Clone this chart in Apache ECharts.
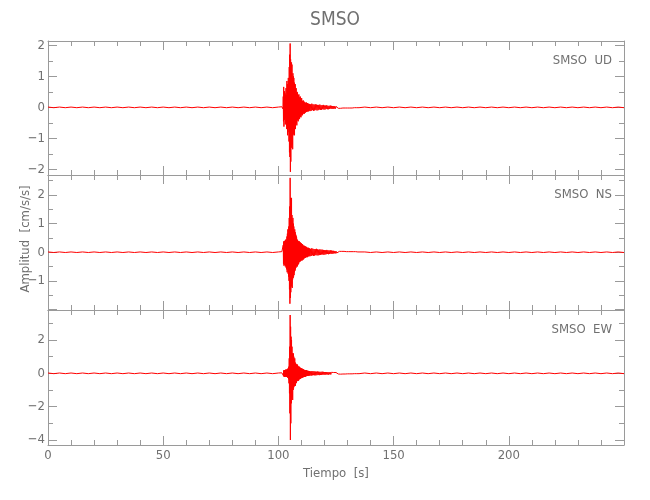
<!DOCTYPE html>
<html>
<head>
<meta charset="utf-8">
<script src="https://cdn.jsdelivr.net/npm/echarts@6/dist/echarts.min.js"></script>
<style>html,body{margin:0;padding:0;background:#fff;}#c{width:650px;height:500px;}</style>
</head>
<body>
<div id="c"></div>
<script>
// ---- Data ----
var title = 'SMSO';
var stations = ['SMSO  UD', 'SMSO  NS', 'SMSO  EW'];
var xTickLabels = [0, 50, 100, 150, 200];

// Sample segments: [start time, step] for each block of values
var preStart = 0, preStep = 2.5;        // 0 .. 100 s
var denseStart = 101.5, denseStep = 0.1; // 101.5 .. 113.4 s
var midStart = 113.5, midStep = 0.25;    // 113.5 .. 125.25 s
var tailStart = 125.5, tailStep = 0.5;   // 125.5 .. 135 s
var postStart = 137.5, postStep = 2.5;   // 137.5 .. 250 s

// UD component (cm/s/s)
var udPre = [0.01,-0.01,0.01,-0.01,0.01,-0.01,0.01,-0.01,0.01,-0.01,
             0.01,-0.01,0.01,-0.01,0.01,-0.01,0.01,-0.01,0.01,-0.01,
             0.01,-0.01,0.01,-0.01,0.01,-0.01,0.01,-0.01,0.01,-0.01,
             0.01,-0.01,0.01,-0.01,0.01,-0.01,0.01,-0.01,0.01,-0.01,0.01];
var udDense = [0.02,-0.03,0.03,-0.02,0.04,-0.05,
               0.35,-0.45,0.66,-0.62,0.30,
               -0.40,0.52,-0.35,0.45,-0.55,0.38,-0.30,0.62,-0.48,0.40,
               -0.70,0.85,-0.60,0.75,-0.90,0.55,-0.80,0.95,-0.65,0.70,
               -1.10,1.30,-1.45,1.70,-1.60,2.06,-2.08,1.55,-1.75,1.20,
               -1.30,1.45,-1.05,1.38,-1.20,0.95,-1.35,1.10,-0.90,1.00,
               -0.85,0.95,-0.75,0.80,-0.90,0.70,-0.65,0.75,-0.70,0.60,
               -0.55,0.62,-0.50,0.45,-0.58,0.50,-0.42,0.48,-0.40,0.38,
               -0.45,0.40,-0.35,0.42,-0.38,0.30,-0.36,0.33,-0.28,0.35,
               -0.30,0.26,-0.32,0.25,-0.22,0.30,-0.26,0.22,-0.25,0.20,
               -0.22,0.18,-0.20,0.22,-0.17,0.19,-0.21,0.16,-0.18,0.15,
               -0.17,0.14,-0.16,0.15,-0.13,0.16,-0.14,0.12,-0.15,0.13,
               -0.12,0.14,-0.11,0.12,-0.13,0.10,-0.12,0.11,-0.10];
var udMid = [0.11,-0.12,0.10,-0.11,0.12,-0.09,0.10,-0.11,0.09,-0.10,
             0.10,-0.08,0.09,-0.10,0.08,-0.09,0.08,-0.07,0.09,-0.08,
             0.07,-0.08,0.07,-0.06,0.08,-0.07,0.06,-0.07,0.06,-0.05,
             0.07,-0.06,0.05,-0.06,0.05,-0.05,0.06,-0.04,0.05,-0.05,
             0.04,-0.05,0.04,-0.04,0.04,-0.04,0.03,-0.03];
var udTail = [0.03,-0.03,0.03,-0.03,0.03,-0.02,0.03,-0.02,0.02,-0.02,
              0.02,-0.02,0.02,-0.02,0.02,-0.01,0.02,-0.01,0.01,-0.01];
var udPost = [0.01,-0.01,0.01,-0.01,0.01,-0.01,0.01,-0.01,0.01,-0.01,
              0.01,-0.01,0.01,-0.01,0.01,-0.01,0.01,-0.01,0.01,-0.01,
              0.01,-0.01,0.01,-0.01,0.01,-0.01,0.01,-0.01,0.01,-0.01,
              0.01,-0.01,0.01,-0.01,0.01,-0.01,0.01,-0.01,0.01,-0.01,
              0.01,-0.01,0.01,-0.01,0.01,-0.01];

// NS component
var nsPre = [0.01,-0.01,0.01,-0.01,0.01,-0.01,0.01,-0.01,0.01,-0.01,
             0.01,-0.01,0.01,-0.01,0.01,-0.01,0.01,-0.01,0.01,-0.01,
             0.01,-0.01,0.01,-0.01,0.01,-0.01,0.01,-0.01,0.01,-0.01,
             0.01,-0.01,0.01,-0.01,0.01,-0.01,0.01,-0.01,0.01,-0.01,0.01];
var nsDense = [0.02,-0.02,0.03,-0.03,0.02,-0.04,
               0.25,-0.40,0.38,-0.47,0.30,
               -0.35,0.40,-0.45,0.32,-0.50,0.42,-0.38,0.45,-0.55,0.40,
               -0.60,0.55,-0.70,0.65,-0.55,0.80,-0.75,0.60,-0.85,0.90,
               -1.00,1.20,-1.30,1.60,-1.80,2.60,-1.60,1.90,-1.40,1.50,
               -1.20,1.90,-1.10,1.30,-1.25,1.10,-0.95,1.20,-0.90,1.00,
               -0.85,0.90,-0.80,0.75,-0.70,0.80,-0.65,0.70,-0.60,0.62,
               -0.55,0.58,-0.50,0.52,-0.48,0.45,-0.50,0.42,-0.45,0.40,
               -0.42,0.38,-0.40,0.36,-0.35,0.38,-0.33,0.35,-0.30,0.34,
               -0.32,0.30,-0.28,0.32,-0.27,0.28,-0.30,0.26,-0.25,0.28,
               -0.26,0.24,-0.25,0.22,-0.24,0.23,-0.21,0.22,-0.20,0.21,
               -0.20,0.19,-0.18,0.20,-0.17,0.18,-0.16,0.17,-0.18,0.15,
               -0.16,0.15,-0.14,0.16,-0.13,0.14,-0.15,0.13,-0.12];
var nsMid = [0.13,-0.14,0.12,-0.13,0.14,-0.11,0.12,-0.13,0.11,-0.12,
             0.11,-0.10,0.12,-0.11,0.10,-0.11,0.09,-0.10,0.10,-0.09,
             0.09,-0.08,0.09,-0.08,0.08,-0.09,0.07,-0.08,0.07,-0.07,
             0.08,-0.06,0.07,-0.07,0.06,-0.06,0.07,-0.05,0.06,-0.06,
             0.05,-0.05,0.05,-0.04,0.04,-0.04,0.04,-0.03];
var nsTail = [0.03,-0.03,0.03,-0.03,0.03,-0.02,0.03,-0.02,0.02,-0.02,
              0.02,-0.02,0.02,-0.02,0.02,-0.01,0.02,-0.01,0.01,-0.01];
var nsPost = [0.01,-0.01,0.01,-0.01,0.01,-0.01,0.01,-0.01,0.01,-0.01,
              0.01,-0.01,0.01,-0.01,0.01,-0.01,0.01,-0.01,0.01,-0.01,
              0.01,-0.01,0.01,-0.01,0.01,-0.01,0.01,-0.01,0.01,-0.01,
              0.01,-0.01,0.01,-0.01,0.01,-0.01,0.01,-0.01,0.01,-0.01,
              0.01,-0.01,0.01,-0.01,0.01,-0.01];

// EW component
var ewPre = [0.02,-0.02,0.02,-0.02,0.02,-0.02,0.02,-0.02,0.02,-0.02,
             0.02,-0.02,0.02,-0.02,0.02,-0.02,0.02,-0.02,0.02,-0.02,
             0.02,-0.02,0.02,-0.02,0.02,-0.02,0.02,-0.02,0.02,-0.02,
             0.02,-0.02,0.02,-0.02,0.02,-0.02,0.02,-0.02,0.02,-0.02,0.02];
var ewDense = [0.03,-0.04,0.05,-0.04,0.06,-0.05,
               0.10,-0.15,0.18,-0.20,0.16,
               -0.18,0.20,-0.22,0.17,-0.20,0.22,-0.18,0.21,-0.19,0.20,
               -0.22,0.25,-0.20,0.24,-0.26,0.28,-0.24,0.30,-0.35,0.40,
               -0.60,0.90,-1.20,1.60,-2.40,3.50,-4.00,2.80,-3.00,2.20,
               -1.80,2.00,-1.50,1.60,-1.40,1.20,-1.60,1.10,-1.00,1.20,
               -0.90,1.00,-0.80,0.85,-0.75,0.90,-0.70,0.65,-0.75,0.60,
               -0.60,0.55,-0.58,0.50,-0.48,0.55,-0.45,0.50,-0.42,0.45,
               -0.45,0.40,-0.42,0.38,-0.36,0.40,-0.35,0.38,-0.33,0.32,
               -0.32,0.30,-0.30,0.28,-0.27,0.30,-0.26,0.28,-0.25,0.24,
               -0.25,0.22,-0.23,0.24,-0.21,0.22,-0.22,0.20,-0.21,0.19,
               -0.20,0.18,-0.19,0.17,-0.18,0.19,-0.16,0.17,-0.16,0.15,
               -0.16,0.15,-0.14,0.15,-0.13,0.14,-0.14,0.12,-0.13];
var ewMid = [0.14,-0.13,0.12,-0.14,0.13,-0.12,0.13,-0.11,0.12,-0.12,
             0.11,-0.12,0.10,-0.11,0.11,-0.10,0.10,-0.11,0.09,-0.10,
             0.09,-0.09,0.10,-0.08,0.09,-0.08,0.08,-0.09,0.08,-0.07,
             0.08,-0.07,0.07,-0.08,0.07,-0.06,0.07,-0.07,0.06,-0.06,
             0.06,-0.06,0.05,-0.05,0.05,-0.05,0.05,-0.04];
var ewTail = [0.05,-0.04,0.04,-0.05,0.04,-0.04,0.04,-0.04,0.03,-0.03,
              0.03,-0.03,0.03,-0.03,0.03,-0.02,0.03,-0.02,0.02,-0.02];
var ewPost = [0.02,-0.02,0.02,-0.02,0.02,-0.02,0.02,-0.02,0.02,-0.02,
              0.02,-0.02,0.02,-0.02,0.02,-0.02,0.02,-0.02,0.02,-0.02,
              0.02,-0.02,0.02,-0.02,0.02,-0.02,0.02,-0.02,0.02,-0.02,
              0.02,-0.02,0.02,-0.02,0.02,-0.02,0.02,-0.02,0.02,-0.02,
              0.02,-0.02,0.02,-0.02,0.02,-0.02];

// Y axis ranges and ticks per panel
var yRanges = [[-2.18, 2.14], [-2.02, 2.70], [-4.30, 3.80]];
var yMajor = [[-2, -1, 0, 1, 2], [-1, 0, 1, 2], [-4, -2, 0, 2]];
var yMinor = [[-1.5, -0.5, 0.5, 1.5], [-1.5, -0.5, 0.5, 1.5, 2.5], [-3, -1, 1, 3]];
var yMajorTicks = [[-2, -1, 0, 1, 2], [-2, -1, 0, 1, 2], [-4, -2, 0, 2]];

// ---- Build ----
function seg(start, step, vals) {
  return vals.map(function (v, i) { return [start + i * step, v]; });
}
function trace(pre, dense, mid, tail, post) {
  return [].concat(seg(preStart, preStep, pre), seg(denseStart, denseStep, dense),
    seg(midStart, midStep, mid), seg(tailStart, tailStep, tail), seg(postStart, postStep, post));
}
var traces = [
  trace(udPre, udDense, udMid, udTail, udPost),
  trace(nsPre, nsDense, nsMid, nsTail, nsPost),
  trace(ewPre, ewDense, ewMid, ewTail, ewPost)
];

var FONT = "'Liberation Sans Narrow', 'DejaVu Sans Condensed', 'Liberation Sans', sans-serif";
var AX = '#9a9a9a', TXT = '#707070';
var tops = [41, 175, 310], heights = [134, 135, 135];
var grids = [], xAxes = [], yAxes = [], series = [];
function fmt(v) { return (v < 0 ? '\u2212' : '') + Math.abs(v); }

for (var g = 0; g < 3; g++) {
  grids.push({ left: 48, right: 26, top: tops[g], height: heights[g], containLabel: false });
  ['bottom', 'top'].forEach(function (pos) {
    xAxes.push({
      gridIndex: g, type: 'value', position: pos, min: 0, max: 250, interval: 50,
      axisLine: { show: true, onZero: false, lineStyle: { color: AX, width: 1 } },
      axisTick: { show: true, inside: true, length: 9, lineStyle: { color: AX } },
      minorTick: { show: true, splitNumber: 5, length: 5, lineStyle: { color: AX } },
      axisLabel: {
        show: (g === 2 && pos === 'bottom'), color: TXT, fontFamily: FONT, fontSize: 13, margin: 4,
        customValues: xTickLabels
      },
      splitLine: { show: false }, minorSplitLine: { show: false }
    });
  });
  ['left', 'right'].forEach(function (pos) {
    yAxes.push({
      gridIndex: g, type: 'value', position: pos, min: yRanges[g][0], max: yRanges[g][1],
      axisLine: { show: true, onZero: false, lineStyle: { color: AX, width: 1 } },
      axisTick: { show: true, inside: true, length: 9, lineStyle: { color: AX }, customValues: yMajorTicks[g] },
      axisLabel: {
        show: pos === 'left', color: TXT, fontFamily: FONT, fontSize: 13, margin: 3,
        customValues: yMajor[g], formatter: fmt
      },
      splitLine: { show: false }
    });
    yAxes.push({
      gridIndex: g, type: 'value', position: pos, min: yRanges[g][0], max: yRanges[g][1],
      axisLine: { show: false, onZero: false },
      axisTick: { show: true, inside: true, length: 5, lineStyle: { color: AX }, customValues: yMinor[g] },
      axisLabel: { show: false },
      splitLine: { show: false }
    });
  });
  series.push({
    type: 'line', xAxisIndex: 2 * g, yAxisIndex: 4 * g, data: traces[g],
    showSymbol: false, symbol: 'none', clip: true,
    lineStyle: { color: '#ff0000', width: 1 }, animation: false
  });
}

var graphics = [
  { type: 'text', x: 335, y: 20, style: { text: title, fill: TXT, font: '19px ' + FONT, textAlign: 'center', textVerticalAlign: 'middle' } },
  { type: 'text', x: 336, y: 474, style: { text: 'Tiempo  [s]', fill: TXT, font: '13px ' + FONT, textAlign: 'center', textVerticalAlign: 'middle' } },
  { type: 'text', x: 26, y: 239, rotation: Math.PI / 2, style: { text: 'Amplitud  [cm/s/s]', fill: TXT, font: '13px ' + FONT, textAlign: 'center', textVerticalAlign: 'middle' } }
];
for (var k = 0; k < 3; k++) {
  graphics.push({ type: 'text', x: 612, y: tops[k] + 20, style: { text: stations[k], fill: TXT, font: '13px ' + FONT, textAlign: 'right', textVerticalAlign: 'middle' } });
}

var chart = echarts.init(document.getElementById('c'), null, { renderer: 'canvas' });
chart.setOption({
  animation: false,
  backgroundColor: '#ffffff',
  grid: grids, xAxis: xAxes, yAxis: yAxes, series: series,
  graphic: graphics
});
</script>
</body>
</html>
